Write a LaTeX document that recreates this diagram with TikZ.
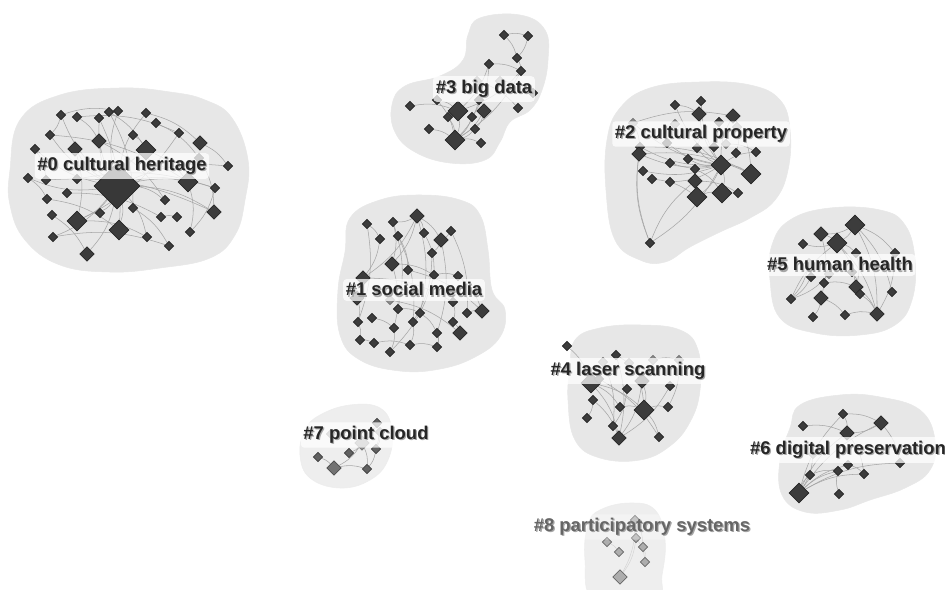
\documentclass[tikz,border=0pt]{standalone}
\usepackage{fontspec}
\usepackage{tikz}
\usetikzlibrary{shapes.geometric, positioning, backgrounds}
\newfontfamily\lblfont{Liberation Sans}
\definecolor{cBlob}{RGB}{231,231,231}
\definecolor{cBlobLt}{RGB}{238,238,238}
\definecolor{cNode}{RGB}{60,60,60}
\definecolor{cLink}{RGB}{165,165,165}
\newcommand{\shtext}[2][black!85]{\makebox[0pt][l]{\raisebox{-0.7pt}{\hspace{0.7pt}\textcolor{gray!70}{#2}}}\textcolor{#1}{#2}}
\pgfdeclarelayer{blobs}
\pgfdeclarelayer{links}
\pgfdeclarelayer{labels}
\pgfsetlayers{blobs,links,main,labels}
\tikzset{
	blob/.style={fill=cBlob, draw=gray!18, line width=0.3pt},
	blobLt/.style={fill=cBlobLt, draw=gray!14, line width=0.3pt},
	dia/.style={diamond, aspect=1, inner sep=0pt, draw=black!85, fill=cNode, line width=0.4pt},
	dS/.style={dia, minimum size=0.19cm},
	dM/.style={dia, minimum size=0.29cm},
	dL/.style={dia, minimum size=0.40cm},
	dH/.style={dia, minimum size=0.92cm, fill=black!78},
	dSg/.style={dS, fill=black!45, draw=black!55},
	dMg/.style={dM, fill=black!45, draw=black!55},
	dSc/.style={dS, fill=black!62, draw=black!75},
	dMc/.style={dM, fill=black!55, draw=black!70},
	dSp/.style={dS, fill=black!32, draw=black!60},
	dMp/.style={dM, fill=black!32, draw=black!60},
	link/.style={draw=cLink, line width=0.3pt},
	linkLt/.style={draw=gray!35, line width=0.25pt},
	cluster/.style={font=\lblfont\fontsize{10.5}{12}\selectfont\bfseries, fill=white, fill opacity=0.75, text opacity=1, rounded corners=2pt, inner xsep=1.5pt, inner ysep=2pt},
}
\begin{document}
\begin{tikzpicture}[x=0.02cm, y=-0.02cm]
	\clip (0,0) rectangle (945,590);

	% cluster areas
	\begin{pgfonlayer}{blobs}
		\fill[white] (0,0) rectangle (945,590);
		\filldraw[blob] plot[smooth cycle, tension=0.7] coordinates {(10,170) (20,120) (60,95) (120,88) (170,92) (205,100) (232,118) (248,160) (245,200) (235,235) (210,258) (160,268) (110,272) (60,265) (25,240) (10,205)};
		\filldraw[blob] plot[smooth cycle, tension=0.7] coordinates {(480,18) (520,15) (545,30) (548,60) (542,90) (530,110) (510,122) (500,142) (485,160) (450,163) (415,152) (395,132) (392,105) (405,86) (440,76) (463,60) (468,35)};
		\filldraw[blob] plot[smooth cycle, tension=0.7] coordinates {(620,108) (650,88) (700,82) (750,85) (780,100) (790,130) (788,170) (775,200) (750,218) (720,232) (690,247) (665,262) (640,260) (615,240) (606,190) (607,140)};
		\filldraw[blob] plot[smooth cycle, tension=0.7] coordinates {(350,218) (380,200) (420,195) (460,200) (480,215) (488,250) (492,290) (505,310) (500,337) (475,357) (440,369) (400,371) (360,360) (340,335) (338,290) (345,252)};
		\filldraw[blob] plot[smooth cycle, tension=0.7] coordinates {(575,340) (600,328) (640,325) (680,330) (698,350) (700,390) (690,422) (670,446) (640,460) (600,458) (575,440) (568,400) (570,368)};
		\filldraw[blob] plot[smooth cycle, tension=0.7] coordinates {(790,220) (830,208) (880,210) (905,225) (915,260) (912,300) (895,325) (860,335) (815,333) (780,318) (770,280) (772,245)};
		\filldraw[blob] plot[smooth cycle, tension=0.7] coordinates {(800,405) (840,395) (880,397) (920,410) (935,440) (930,470) (905,488) (870,500) (840,510) (805,512) (782,495) (780,460) (790,428)};
		\filldraw[blobLt] plot[smooth cycle, tension=0.7] coordinates {(320,415) (350,405) (380,408) (392,430) (388,460) (370,480) (340,488) (310,478) (300,455) (305,430)};
		\filldraw[blobLt] plot[smooth cycle, tension=0.7] coordinates {(600,510) (630,503) (655,510) (665,540) (662,575) (655,600) (595,600) (585,560) (588,525)};
	\end{pgfonlayer}

	% #0 cultural heritage
	\foreach \n/\x/\y/\s in {1/61/115/dS, 2/77/117/dS, 3/99/118/dS, 4/109/112/dS, 5/118/111/dS, 6/146/113/dS, 7/156/123/dS, 8/179/133/dS, 9/50/135/dS, 10/133/135/dS, 11/99/141/dM, 12/200/143/dM, 13/35/149/dS, 14/75/149/dM, 15/146/150/dL, 16/199/158/dS, 17/228/166/dS, 18/28/178/dS, 19/46/180/dS, 20/77/179/dS, 21/117/186/dH, 22/188/182/dL, 23/215/188/dS, 24/47/199/dS, 25/67/193/dS, 26/165/200/dS, 27/133/208/dS, 28/100/213/dS, 29/52/215/dS, 30/77/221/dL, 31/161/217/dS, 32/177/217/dS, 33/214/212/dM, 34/119/230/dL, 35/190/232/dS, 36/53/237/dS, 37/147/237/dS, 38/169/246/dS, 39/87/254/dM}
		\node[\s] (k0-\n) at (\x,\y) {};
	\begin{pgfonlayer}{links}
		\foreach \a/\b in {21/1, 21/3, 21/5, 21/6, 21/9, 21/11, 21/13, 21/14, 21/15, 21/17, 21/18, 21/22, 21/23, 21/26, 21/28, 21/30, 21/33, 21/34, 21/36, 21/37, 21/39, 1/9, 1/5, 2/11, 4/27, 6/12, 7/16, 10/15, 12/17, 13/19, 14/30, 15/22, 16/33, 22/35, 24/34, 25/31, 27/38, 29/39, 30/37, 31/32, 3/34, 8/30, 20/23, 19/33, 2/8, 18/24, 9/22, 11/26, 36/38, 4/15, 23/35}
			\draw[link] (k0-\a) to[bend left=14] (k0-\b);
	\end{pgfonlayer}

	% #3 big data
	\foreach \n/\x/\y/\s in {1/504/35/dS, 2/528/36/dS, 3/517/58/dS, 4/489/64/dS, 5/521/71/dS, 6/477/81/dSg, 7/500/81/dSg, 8/533/93/dS, 9/437/100/dS, 10/410/106/dS, 11/479/100/dS, 12/518/108/dS, 13/458/111/dL, 14/484/111/dM, 15/448/117/dS, 16/472/117/dS, 17/475/129/dS, 18/429/129/dS, 19/455/140/dL, 20/481/143/dS}
		\node[\s] (k3-\n) at (\x,\y) {};
	\begin{pgfonlayer}{links}
		\foreach \a/\b in {1/2, 1/3, 2/3, 3/5, 4/5, 4/13, 5/13, 5/19, 7/8, 9/13, 9/19, 10/13, 11/14, 13/19, 14/19, 15/19, 16/19, 17/19, 18/19, 19/20, 11/19, 4/16, 6/12, 14/17}
			\draw[link] (k3-\a) to[bend left=14] (k3-\b);
	\end{pgfonlayer}

	% #2 cultural property
	\foreach \n/\x/\y/\s in {1/675/105/dS, 2/701/101/dS, 3/633/123/dSg, 4/699/114/dM, 5/733/116/dM, 6/719/122/dS, 7/675/124/dSg, 8/737/127/dSg, 9/667/143/dS, 10/640/147/dS, 11/726/144/dSg, 12/697/148/dS, 13/714/147/dS, 14/639/154/dM, 15/736/153/dS, 16/756/152/dS, 17/670/163/dS, 18/688/159/dS, 19/721/165/dL, 20/643/171/dS, 21/695/169/dS, 22/751/174/dL, 23/652/179/dS, 24/670/182/dS, 25/695/181/dM, 26/697/197/dL, 27/722/193/dL, 28/738/193/dS, 29/650/243/dS}
		\node[\s] (k2-\n) at (\x,\y) {};
	\begin{pgfonlayer}{links}
		\foreach \a/\b in {19/1, 19/2, 19/4, 19/5, 19/9, 19/10, 19/12, 19/14, 19/17, 19/18, 19/20, 19/22, 19/24, 19/26, 19/27, 19/29, 19/3, 19/16, 29/14, 29/10, 29/25, 1/4, 2/4, 4/12, 5/22, 6/13, 7/9, 8/15, 3/14, 10/22, 14/22, 21/27, 23/26, 25/28, 26/27, 11/16, 3/5}
			\draw[link] (k2-\a) to[bend left=14] (k2-\b);
	\end{pgfonlayer}

	% #1 social media
	\foreach \n/\x/\y/\s in {1/417/216/dM, 2/367/224/dS, 3/393/222/dS, 4/424/233/dS, 5/451/231/dS, 6/380/239/dS, 7/398/236/dS, 8/441/240/dM, 9/432/253/dS, 10/392/264/dM, 11/408/270/dS, 12/434/275/dS, 13/458/276/dS, 14/363/278/dM, 15/357/298/dM, 16/390/300/dSg, 17/453/302/dS, 18/398/309/dS, 19/420/313/dS, 20/467/313/dS, 21/482/311/dM, 22/358/322/dS, 23/372/318/dS, 24/413/322/dS, 25/453/322/dS, 26/394/328/dS, 27/437/333/dS, 28/460/333/dM, 29/360/340/dS, 30/374/343/dS, 31/410/345/dS, 32/390/352/dS, 33/437/347/dS}
		\node[\s] (k1-\n) at (\x,\y) {};
	\begin{pgfonlayer}{links}
		\foreach \a/\b in {1/3, 1/4, 1/8, 1/10, 1/19, 2/6, 3/10, 3/18, 4/12, 5/8, 6/14, 7/11, 8/9, 9/24, 10/12, 10/26, 11/21, 12/13, 13/21, 14/15, 14/17, 15/22, 16/28, 17/25, 18/19, 19/27, 20/21, 22/29, 23/26, 24/31, 25/28, 26/32, 27/33, 29/30, 30/31, 31/33, 2/22, 5/20, 7/24, 12/32, 1/14, 8/27}
			\draw[link] (k1-\a) to[bend left=14] (k1-\b);
	\end{pgfonlayer}

	% #4 laser scanning
	\foreach \n/\x/\y/\s in {1/567/346/dS, 2/616/355/dS, 3/603/362/dSg, 4/629/363/dSg, 5/653/360/dSg, 6/679/360/dSg, 7/591/383/dL, 8/599/379/dS, 9/642/381/dM, 10/670/386/dS, 11/627/389/dS, 12/593/400/dS, 13/620/407/dS, 14/644/410/dL, 15/668/407/dS, 16/587/418/dS, 17/613/426/dS, 18/619/438/dM, 19/659/437/dS}
		\node[\s] (k4-\n) at (\x,\y) {};
	\begin{pgfonlayer}{links}
		\foreach \a/\b in {1/7, 2/18, 7/14, 7/18, 7/13, 8/19, 9/14, 9/18, 11/17, 12/16, 13/14, 14/15, 14/19, 10/18, 5/6, 6/15, 2/9, 12/18, 4/14, 3/17}
			\draw[link] (k4-\a) to[bend left=14] (k4-\b);
	\end{pgfonlayer}

	% #5 human health
	\foreach \n/\x/\y/\s in {1/855/225/dL, 2/821/234/dM, 3/837/243/dL, 4/803/244/dS, 5/856/253/dS, 6/895/253/dS, 7/809/263/dSg, 8/811/277/dS, 9/829/274/dSg, 10/824/283/dS, 11/852/272/dS, 12/856/287/dM, 13/860/294/dS, 14/892/292/dS, 15/821/298/dM, 16/791/299/dS, 17/813/317/dS, 18/845/315/dS, 19/877/314/dM}
		\node[\s] (k5-\n) at (\x,\y) {};
	\begin{pgfonlayer}{links}
		\foreach \a/\b in {1/2, 1/3, 1/6, 1/19, 1/14, 2/3, 3/4, 3/5, 3/12, 3/19, 5/12, 6/19, 7/16, 8/16, 9/16, 10/12, 11/13, 12/19, 15/17, 15/18, 16/3, 13/19, 2/15, 18/19}
			\draw[link] (k5-\a) to[bend left=14] (k5-\b);
	\end{pgfonlayer}

	% #6 digital preservation
	\foreach \n/\x/\y/\s in {1/843/414/dS, 2/803/426/dS, 3/881/423/dM, 4/847/433/dM, 5/813/454/dSg, 6/900/463/dS, 7/848/465/dS, 8/810/475/dS, 9/838/471/dS, 10/864/474/dS, 11/799/493/dL, 12/839/494/dS}
		\node[\s] (k6-\n) at (\x,\y) {};
	\begin{pgfonlayer}{links}
		\foreach \a/\b in {11/1, 11/3, 11/4, 11/6, 11/7, 11/8, 11/9, 11/10, 1/4, 1/3, 3/4, 4/10, 3/6, 7/10, 8/9, 12/9, 2/4, 5/11}
			\draw[link] (k6-\a) to[bend left=14] (k6-\b);
	\end{pgfonlayer}

	% #7 point cloud
	\foreach \n/\x/\y/\s in {1/377/423/dSc, 2/331/434/dSg, 3/380/432/dSg, 4/362/443/dMg, 5/349/453/dSc, 6/376/449/dSc, 7/318/457/dSc, 8/334/468/dMc, 9/367/469/dSc}
		\node[\s] (k7-\n) at (\x,\y) {};
	\begin{pgfonlayer}{links}
		\foreach \a/\b in {1/4, 3/6, 4/5, 4/8, 4/9, 6/9, 7/8, 8/9, 2/4, 1/6}
			\draw[link] (k7-\a) to[bend left=14] (k7-\b);
	\end{pgfonlayer}

	% #8 participatory systems
	\foreach \n/\x/\y/\s in {1/635/520/dSp, 2/607/542/dSp, 3/636/538/dSp, 4/619/552/dSp, 5/643/547/dSp, 6/645/562/dSp, 7/620/577/dMp}
		\node[\s] (k8-\n) at (\x,\y) {};
	\begin{pgfonlayer}{links}
		\foreach \a/\b in {1/7, 3/7, 2/4, 1/5, 5/6, 3/6}
			\draw[linkLt] (k8-\a) to[bend left=14] (k8-\b);
	\end{pgfonlayer}

	% cluster labels
	\begin{pgfonlayer}{labels}
		\node[cluster] (lbl0) at (122,166) {\shtext{\#0 cultural heritage}};
		\node[cluster] (lbl3) at (484,89) {\shtext{\#3 big data}};
		\node[cluster] (lbl2) at (701,134) {\shtext{\#2 cultural property}};
		\node[cluster] (lbl1) at (414,290) {\shtext{\#1 social media}};
		\node[cluster] (lbl4) at (628,371) {\shtext{\#4 laser scanning}};
		\node[cluster] (lbl5) at (840,265) {\shtext{\#5 human health}};
		\node[cluster] (lbl6) at (848,450) {\shtext{\#6 digital preservation}};
		\node[cluster] (lbl7) at (366,435) {\shtext{\#7 point cloud}};
		\node[cluster, fill opacity=0.3] (lbl8) at (642,527) {\shtext[black!60]{\#8 participatory systems}};
	\end{pgfonlayer}
\end{tikzpicture}
\end{document}
